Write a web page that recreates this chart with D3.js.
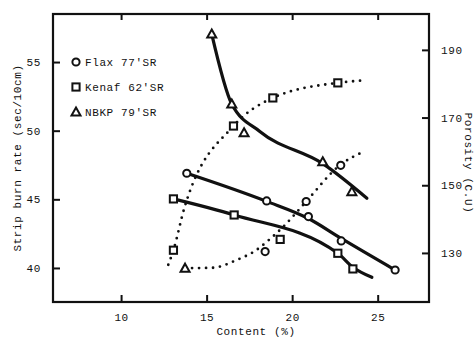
<!DOCTYPE html>
<html><head><meta charset="utf-8">
<script src="https://cdn.jsdelivr.net/npm/d3@7"></script>
<style>
body{margin:0;background:#fff}
text{font-family:"Liberation Mono","DejaVu Sans Mono",monospace;font-size:11px;fill:#111;letter-spacing:0.6px}
</style>
</head><body><svg id="c" width="476" height="337"></svg>
<script>
// ---- tick values ----
const xTicks = [10, 15, 20, 25];
const leftTicks = [40, 45, 50, 55];
const rightTicks = [130, 150, 170, 190];

// ---- legend ----
const legendNames = ["Flax 77'SR", "Kenaf 62'SR", "NBKP 79'SR"];
const legendShapes = ["circle", "square", "triangle"];

// ---- strip burn rate (left axis) ----
const flaxBurnX = [13.84, 18.51, 20.95, 22.87, 26.02];
const flaxBurnY = [46.9, 44.88, 43.74, 41.97, 39.85];
const flaxBurnFitX = [13.84, 18.51, 20.95, 22.87, 26.02];
const flaxBurnFitY = [46.9, 44.85, 43.6, 42.15, 39.85];
const kenafBurnX = [13.06, 16.61, 22.67, 23.55];
const kenafBurnY = [45.03, 43.86, 41.07, 39.93];
const kenafBurnFitX = [13.06, 16.61, 22.67, 23.55, 24.66];
const kenafBurnFitY = [45.03, 43.86, 41.07, 40.05, 39.32];
const nbkpBurnX = [15.30, 16.47, 17.19, 21.79, 23.49];
const nbkpBurnY = [57.04, 51.94, 49.85, 47.74, 45.56];
const nbkpBurnFitX = [15.30, 16.47, 18.13, 21.79, 24.37];
const nbkpBurnFitY = [57.04, 51.94, 49.93, 47.6, 45.08];

// ---- porosity (right axis) ----
const kenafPorX = [13.06, 16.57, 18.87, 22.67, 19.30];
const kenafPorY = [130.8, 167.5, 175.8, 180.25, 134.0];
const kenafPorFitX = [12.76, 13.06, 13.70, 16.57, 18.87, 22.67, 23.98];
const kenafPorFitY = [126.5, 130.8, 143.3, 167.5, 175.8, 180.25, 180.9];
const flaxPorX = [18.42, 20.82, 22.84];
const flaxPorY = [130.4, 145.2, 155.9];
const nbkpPorX = [13.74];
const nbkpPorY = [125.5];
const flaxPorFitX = [13.74, 15.30, 16.84, 17.84, 18.52, 19.59, 20.82, 22.81, 24.17];
const flaxPorFitY = [125.5, 125.6, 128.1, 130.6, 133.3, 138.3, 145.2, 156.0, 159.9];

const svg = d3.select("#c");
const L = 53, R = 429, T = 14, B = 302;
const x = d3.scaleLinear().domain([6.02, 28.0]).range([L, R]);
const yL = d3.scaleLinear().domain([37.52, 58.5]).range([B, T]);
const yR = d3.scaleLinear().domain([115.5, 200.6]).range([B, T]);

const ink = "#111";
// axes (ticks inward)
svg.append("g").attr("transform", `translate(0,${B})`)
  .call(d3.axisBottom(x).tickValues(xTicks).tickSizeInner(-7).tickSizeOuter(0).tickPadding(11))
  .call(g => g.select(".domain").remove());
svg.append("g").attr("transform", `translate(0,${T})`)
  .call(d3.axisTop(x).tickValues(xTicks).tickSizeInner(-6).tickSizeOuter(0).tickFormat(""))
  .call(g => g.select(".domain").remove());
svg.append("g").attr("transform", `translate(${L},0)`)
  .call(d3.axisLeft(yL).tickValues(leftTicks).tickSizeInner(-7).tickSizeOuter(0).tickPadding(12))
  .call(g => g.select(".domain").remove());
svg.append("g").attr("transform", `translate(${R},0)`)
  .call(d3.axisRight(yR).tickValues(rightTicks).tickSizeInner(-7).tickSizeOuter(0).tickPadding(12))
  .call(g => g.select(".domain").remove());
svg.selectAll(".tick line").attr("stroke", ink).attr("stroke-width", 2);
svg.selectAll(".tick text").attr("fill", ink).style("font-family", '"Liberation Mono",monospace').style("font-size", "11px");

// frame
svg.append("rect").attr("x", L).attr("y", T).attr("width", R - L).attr("height", B - T)
  .attr("fill", "none").attr("stroke", ink).attr("stroke-width", 2.2);

const zip = (xs, ys) => xs.map((v, i) => [v, ys[i]]);
const lineL = d3.line().x(d => x(d[0])).y(d => yL(d[1])).curve(d3.curveMonotoneX);
const lineR = d3.line().x(d => x(d[0])).y(d => yR(d[1])).curve(d3.curveMonotoneX);

// solid fits
[[flaxBurnFitX, flaxBurnFitY], [kenafBurnFitX, kenafBurnFitY], [nbkpBurnFitX, nbkpBurnFitY]].forEach(([xs, ys]) => {
  svg.append("path").attr("d", lineL(zip(xs, ys))).attr("fill", "none")
    .attr("stroke", ink).attr("stroke-width", 3.2).attr("stroke-linecap", "round");
});
// dotted fits
[[kenafPorFitX, kenafPorFitY], [flaxPorFitX, flaxPorFitY]].forEach(([xs, ys]) => {
  svg.append("path").attr("d", lineR(zip(xs, ys))).attr("fill", "none")
    .attr("stroke", ink).attr("stroke-width", 2.8).attr("stroke-linecap", "round")
    .attr("stroke-dasharray", "0,7");
});

function marker(g, shape, cx, cy) {
  const s = { fill: "#fff", stroke: ink, "stroke-width": 2 };
  let el;
  if (shape === "circle") el = g.append("circle").attr("cx", cx).attr("cy", cy).attr("r", 3.6);
  else if (shape === "square") el = g.append("rect").attr("x", cx - 3.6).attr("y", cy - 3.6).attr("width", 7.2).attr("height", 7.2);
  else el = g.append("path").attr("d", `M${cx},${cy - 4.5}L${cx + 4.5},${cy + 3.5}L${cx - 4.5},${cy + 3.5}Z`);
  Object.entries(s).forEach(([k, v]) => el.attr(k, v));
}
const mg = svg.append("g");
zip(flaxBurnX, flaxBurnY).forEach(d => marker(mg, "circle", x(d[0]), yL(d[1])));
zip(kenafBurnX, kenafBurnY).forEach(d => marker(mg, "square", x(d[0]), yL(d[1])));
zip(nbkpBurnX, nbkpBurnY).forEach(d => marker(mg, "triangle", x(d[0]), yL(d[1])));
zip(kenafPorX, kenafPorY).forEach(d => marker(mg, "square", x(d[0]), yR(d[1])));
zip(flaxPorX, flaxPorY).forEach(d => marker(mg, "circle", x(d[0]), yR(d[1])));
zip(nbkpPorX, nbkpPorY).forEach(d => marker(mg, "triangle", x(d[0]), yR(d[1])));

// legend
const lg = svg.append("g");
legendNames.forEach((n, i) => {
  const cy = 62 + i * 25;
  marker(lg, legendShapes[i], 76, cy);
  lg.append("text").attr("x", 85).attr("y", cy + 4).text(n);
});

// axis titles
svg.append("text").attr("x", 256).attr("y", 335).attr("text-anchor", "middle").text("Content (%)");
svg.append("text").attr("transform", "translate(21,158) rotate(-90)").attr("text-anchor", "middle").text("Strip burn rate (sec/10cm)");
svg.append("text").attr("transform", "translate(465,163) rotate(90)").attr("text-anchor", "middle").text("Porosity (C.U)");
</script>
</body></html>
